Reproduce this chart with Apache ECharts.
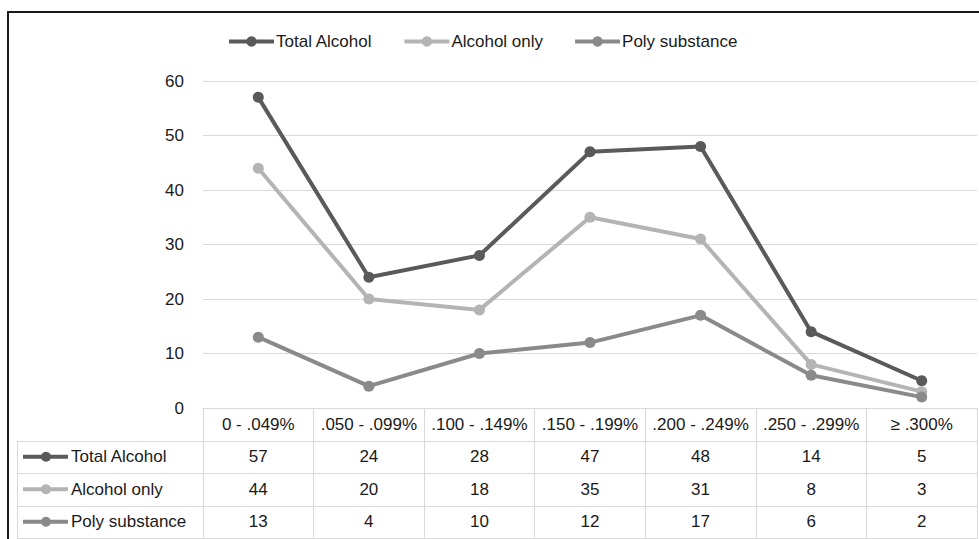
<!DOCTYPE html>
<html>
<head>
<meta charset="utf-8">
<script src="https://cdn.jsdelivr.net/npm/echarts@6/dist/echarts.min.js"></script>
<style>
  html, body { margin: 0; padding: 0; background: #fff; }
  #chart { width: 979px; height: 539px; }
</style>
</head>
<body>
<div id="chart"></div>
<script>
const categories = [
  "0 - .049%", ".050 - .099%", ".100 - .149%", ".150 - .199%",
  ".200 - .249%", ".250 - .299%", "\u2265 .300%"
];
const seriesNames = ["Total Alcohol", "Alcohol only", "Poly substance"];
const totalAlcohol = [57, 24, 28, 47, 48, 14, 5];
const alcoholOnly = [44, 20, 18, 35, 31, 8, 3];
const polySubstance = [13, 4, 10, 12, 17, 6, 2];
const colors = ["#5a5a5a", "#b4b4b4", "#8a8a8a"];

const allValues = [totalAlcohol, alcoholOnly, polySubstance];
const font = "Liberation Sans";
const fontSize = 17;

// layout
const gridLeft = 203, gridRight = 2, gridTop = 81, axisY = 408;
const rowH = 32.5;
const tableLeft = 17, tableRight = 979 - gridRight;

const chart = echarts.init(document.getElementById("chart"), null, { renderer: "svg" });

// outer frame, table row lines and row label cells (legend key + name)
const graphics = [
  {
    type: "rect",
    shape: { x: 8, y: 12, width: 1000, height: 600 },
    style: { fill: "none", stroke: "#1a1a1a", lineWidth: 2 },
    silent: true
  }
];
for (let r = 1; r <= 4; r++) {
  const y = Math.round(axisY + r * rowH) + 0.5;
  graphics.push({
    type: "line",
    shape: { x1: tableLeft, y1: y, x2: tableRight, y2: y },
    style: { stroke: "#d9d9d9", lineWidth: 1 },
    silent: true
  });
}
graphics.push({
  type: "line",
  shape: { x1: tableLeft + 0.5, y1: axisY + rowH, x2: tableLeft + 0.5, y2: axisY + 4 * rowH + 1 },
  style: { stroke: "#d9d9d9", lineWidth: 1 },
  silent: true
});
seriesNames.forEach((name, i) => {
  const cy = axisY + (i + 1.5) * rowH;
  graphics.push(
    {
      type: "line",
      shape: { x1: 23, y1: cy, x2: 68, y2: cy },
      style: { stroke: colors[i], lineWidth: 4 },
      silent: true
    },
    {
      type: "circle",
      shape: { cx: 46, cy: cy, r: 5 },
      style: { fill: colors[i] },
      silent: true
    },
    {
      type: "text",
      x: 71,
      y: cy,
      style: {
        text: name,
        font: fontSize + "px '" + font + "'",
        fill: "#1a1a1a",
        verticalAlign: "middle",
        align: "left"
      },
      silent: true
    }
  );
});

chart.setOption({
  animation: false,
  textStyle: { fontFamily: font },
  legend: {
    top: 28,
    left: 222,
    itemWidth: 45,
    itemHeight: 13,
    itemGap: 30,
    lineStyle: { width: 4 },
    textStyle: { fontSize: fontSize, color: "#1a1a1a", padding: [0, 0, 0, -3] },
    data: seriesNames
  },
  grid: {
    left: gridLeft,
    right: gridRight,
    top: gridTop,
    bottom: 539 - axisY
  },
  xAxis: {
    type: "category",
    data: categories,
    boundaryGap: true,
    axisLine: { show: true, lineStyle: { color: "#d9d9d9", width: 1 } },
    axisTick: {
      show: true,
      interval: 0,
      length: 4 * rowH + 1,
      lineStyle: { color: "#d9d9d9", width: 1 }
    },
    axisLabel: {
      interval: 0,
      margin: 0,
      fontSize: fontSize,
      color: "#1a1a1a",
      lineHeight: rowH,
      formatter: (value, idx) =>
        [value].concat(allValues.map((arr) => arr[idx])).join("\n")
    }
  },
  yAxis: {
    type: "value",
    min: 0,
    max: 60,
    interval: 10,
    axisLine: { show: false },
    axisTick: { show: false },
    axisLabel: { fontSize: fontSize, color: "#1a1a1a", margin: 19 },
    splitLine: { lineStyle: { color: "#d9d9d9", width: 1 } }
  },
  series: seriesNames.map((name, i) => ({
    name: name,
    type: "line",
    data: allValues[i],
    symbol: "circle",
    symbolSize: 11,
    itemStyle: { color: colors[i] },
    lineStyle: { color: colors[i], width: 4 }
  })),
  graphic: graphics
});
</script>
</body>
</html>
